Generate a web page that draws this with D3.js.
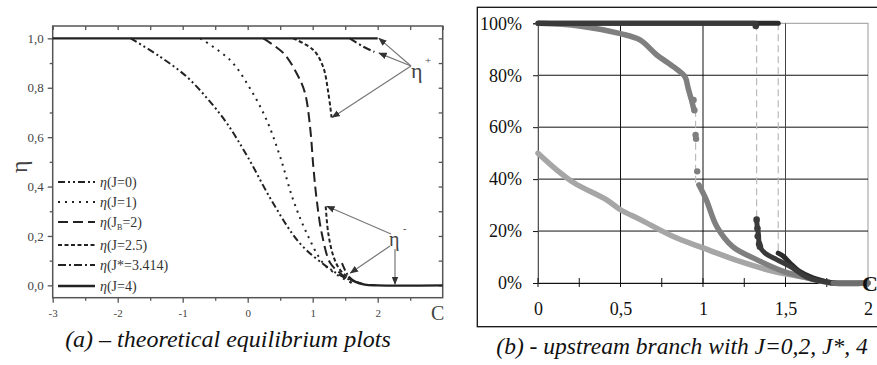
<!DOCTYPE html>
<html>
<head>
<meta charset="utf-8">
<script src="https://cdn.jsdelivr.net/npm/d3@7"></script>
<style>
  body { margin: 0; background: #fff; }
  svg { display: block; }
  svg text { font-family: "Liberation Serif", "DejaVu Serif", serif; }
</style>
</head>
<body>
<svg id="chart" width="877" height="365"></svg>
<script>
// ---- data: (a) theoretical curves, [C, eta] ----
const curveJ0 = [[-1.8,1],[-1.35,0.926],[-0.94,0.845],[-0.6,0.75],[-0.32,0.656],[0,0.52],[0.39,0.333],[0.8,0.171],[1.21,0.077],[1.5,0.03],[1.75,0.008]];
const curveJ1 = [[-0.73,1],[-0.27,0.912],[0.03,0.8],[0.29,0.67],[0.5,0.52],[0.7,0.346],[0.91,0.21],[1.16,0.09],[1.39,0.04],[1.6,0.01]];
const curveJB = [[0.24,1],[0.55,0.94],[0.75,0.86],[0.88,0.78],[0.96,0.64],[1.01,0.48],[1.06,0.35],[1.14,0.21],[1.27,0.09],[1.42,0.05],[1.6,0.01]];
const curveJ25up = [[0.7,1],[1.01,0.953],[1.16,0.885],[1.24,0.78],[1.29,0.68]];
const curveJ25low = [[1.2,0.32],[1.24,0.21],[1.32,0.117],[1.42,0.063],[1.6,0.02]];
const curveJsUp = [[1.57,1],[1.78,0.966],[1.95,0.945]];
const curveJsLow = [[1.45,0.09],[1.52,0.05],[1.6,0.02]];
const curveJ4up = [[-3,1],[2,1]];
const curveJ4low = [[1.55,0.035],[1.65,0.015],[1.8,0.003],[2,0],[3,0]];
const legendLabels = ["J=0", "J=1", "J_B=2", "J=2.5", "J*=3.414", "J=4"];
const xTicksA = [-3, -2, -1, 0, 1, 2];
const yTicksA = [0, 0.2, 0.4, 0.6, 0.8, 1.0];

// ---- data: (b) upstream branch, [C, eta] ----
const rJ0 = [[0,0.5],[0.113,0.436],[0.22,0.385],[0.416,0.32],[0.5,0.282],[0.62,0.244],[0.82,0.179],[1.0,0.135],[1.224,0.083],[1.426,0.045],[1.63,0.02],[1.78,0],[2,0]];
const rJ2up = [[0,1],[0.25,0.99],[0.5,0.96],[0.618,0.936],[0.72,0.878],[0.82,0.833],[0.89,0.795],[0.91,0.75],[0.93,0.705],[0.945,0.667]];
const rJ2jump = [[0.943,0.705],[0.948,0.665],[0.955,0.57],[0.958,0.555],[0.965,0.43]];
const rJ2low = [[0.975,0.378],[1.02,0.32],[1.083,0.218],[1.18,0.14],[1.325,0.09],[1.487,0.045],[1.62,0.022],[1.79,0],[2,0]];
const rJsUp = [[0,1],[1.32,1]];
const rJsLow = [[1.325,0.244],[1.33,0.21],[1.335,0.192],[1.345,0.14],[1.376,0.115],[1.447,0.09],[1.527,0.064],[1.63,0.022],[1.69,0.01],[1.8,0]];
const rJsDots = [[1.32,0.99],[1.325,0.244],[1.33,0.21],[1.332,0.18],[1.34,0.15],[1.345,0.14]];
const rJ4up = [[0,1],[1.456,1]];
const rJ4low = [[1.456,0.115],[1.487,0.103],[1.527,0.077],[1.585,0.045],[1.666,0.02],[1.78,0]];
const xTicksB = [0, 0.5, 1, 1.5, 2];
const yTicksB = [0, 0.2, 0.4, 0.6, 0.8, 1.0];

const svg = d3.select("#chart");
const SERIF = "'Liberation Serif', 'DejaVu Serif', serif";
const comma = v => v.toString().replace(".", ",");

// ================= panel (a) =================
const xA = d3.scaleLinear().domain([-3, 3]).range([52.7, 442.7]);
const yA = d3.scaleLinear().domain([-0.05, 1.05]).range([297.7, 26]);
const gA = svg.append("g");
const frameCol = "#555";

gA.append("rect")
  .attr("x", xA(-3)).attr("y", yA(1.05))
  .attr("width", xA(3) - xA(-3)).attr("height", yA(-0.05) - yA(1.05))
  .attr("fill", "none").attr("stroke", frameCol).attr("stroke-width", 1.5);

function styleAxis(g) {
  g.attr("font-family", SERIF);
  g.select(".domain").remove();
  g.selectAll("line").attr("stroke", frameCol).attr("stroke-width", 1.3);
  g.selectAll("text").attr("fill", "#444");
}

// bottom axis (outward ticks)
gA.append("g").attr("transform", `translate(0,${yA(-0.05)})`)
  .call(d3.axisBottom(xA).tickValues(xTicksA).tickSize(5).tickPadding(7).tickFormat(d => d))
  .call(styleAxis).call(g => g.selectAll("text").attr("font-size", 11));
gA.append("g").attr("transform", `translate(0,${yA(-0.05)})`)
  .call(d3.axisBottom(xA).tickValues(d3.range(-2.5, 3, 1)).tickSize(3).tickFormat(""))
  .call(styleAxis);
// top axis (inward)
gA.append("g").attr("transform", `translate(0,${yA(1.05)})`)
  .call(d3.axisBottom(xA).tickValues(d3.range(-3, 3.01, 0.5)).tickSize(4).tickFormat(""))
  .call(styleAxis);
// left axis (outward)
gA.append("g").attr("transform", `translate(${xA(-3)},0)`)
  .call(d3.axisLeft(yA).tickValues(yTicksA).tickSize(5).tickPadding(4).tickFormat(d => comma(d.toFixed(1))))
  .call(styleAxis).call(g => g.selectAll("text").attr("font-size", 13));
gA.append("g").attr("transform", `translate(${xA(-3)},0)`)
  .call(d3.axisLeft(yA).tickValues([0.1, 0.3, 0.5, 0.7, 0.9]).tickSize(3).tickFormat(""))
  .call(styleAxis);
// right axis (inward)
gA.append("g").attr("transform", `translate(${xA(3)},0)`)
  .call(d3.axisRight(yA).tickValues(d3.range(0, 1.01, 0.1)).tickSize(-4).tickFormat(""))
  .call(styleAxis);

gA.append("text").attr("transform", `translate(27,${yA(0.48)}) rotate(-90)`)
  .attr("text-anchor", "middle").attr("font-size", 24).attr("fill", "#444").text("η");
gA.append("text").attr("x", 431).attr("y", 320).attr("font-size", 20).attr("fill", "#444").text("C");

const lineA = d3.line().x(d => xA(d[0])).y(d => yA(d[1])).curve(d3.curveCatmullRom.alpha(0.5));
const dashes = ["7,3,2,3,2,3", "2,5", "10,5", "4,2.5", "8,3,2,3", null];
const seriesA = [
  [curveJ0], [curveJ1], [curveJB], [curveJ25up, curveJ25low], [curveJsUp, curveJsLow], [curveJ4up, curveJ4low]
];
seriesA.forEach((parts, i) => {
  parts.forEach(p => {
    gA.append("path").attr("d", lineA(p)).attr("fill", "none")
      .attr("stroke", "#222").attr("stroke-width", i === 5 ? 2.3 : 2)
      .attr("stroke-dasharray", dashes[i]);
  });
});

// legend
const legY = [182, 202, 222, 245, 265, 286];
legendLabels.forEach((lab, i) => {
  gA.append("line").attr("x1", 58).attr("x2", 95).attr("y1", legY[i]).attr("y2", legY[i])
    .attr("stroke", "#222").attr("stroke-width", i === 5 ? 2.3 : 2).attr("stroke-dasharray", dashes[i]);
  const t = gA.append("text").attr("x", 100).attr("y", legY[i] + 5).attr("font-size", 14).attr("fill", "#333");
  t.append("tspan").attr("font-style", "italic").text("η");
  if (lab.startsWith("J_B")) {
    t.append("tspan").text("(J");
    t.append("tspan").attr("font-size", 8).attr("dy", 3).text("B");
    t.append("tspan").attr("dy", -3).text("=2)");
  } else {
    t.append("tspan").text("(" + lab + ")");
  }
});

// annotations
const arrowCol = "#777";
svg.append("defs").append("marker").attr("id", "ah").attr("viewBox", "0 0 10 10")
  .attr("refX", 9).attr("refY", 5).attr("markerWidth", 7).attr("markerHeight", 7).attr("orient", "auto")
  .append("path").attr("d", "M0,1 L10,5 L0,9 z").attr("fill", "#333");
function arrow(x1, y1, x2, y2) {
  gA.append("line").attr("x1", x1).attr("y1", y1).attr("x2", x2).attr("y2", y2)
    .attr("stroke", arrowCol).attr("stroke-width", 1.2).attr("marker-end", "url(#ah)");
}
arrow(411, 66, xA(2.02), yA(1.0));
arrow(411, 66, xA(2.02), yA(0.94));
arrow(411, 66, xA(1.3), yA(0.68));
gA.append("text").attr("x", 411).attr("y", 78).attr("font-size", 22).attr("fill", "#444").text("η");
gA.append("text").attr("x", 425).attr("y", 64).attr("font-size", 11).attr("fill", "#444").text("+");
arrow(391, 234, xA(1.22), yA(0.32));
arrow(390, 246, xA(1.58), yA(0.05));
arrow(395, 249, 395, yA(0.005));
gA.append("text").attr("x", 389).attr("y", 246).attr("font-size", 20).attr("fill", "#444").text("η");
gA.append("text").attr("x", 403).attr("y", 232).attr("font-size", 10).attr("fill", "#444").text("-");

svg.append("text").attr("x", 228).attr("y", 347).attr("text-anchor", "middle")
  .attr("font-size", 24).attr("font-style", "italic").attr("fill", "#111")
  .text("(a) – theoretical equilibrium plots");

// ================= panel (b) =================
const xB = d3.scaleLinear().domain([0, 2]).range([538, 868]);
const yB = d3.scaleLinear().domain([0, 1]).range([283, 23.3]);
const gB = svg.append("g");

gB.append("rect").attr("x", 477.3).attr("y", 7.3).attr("width", 420).attr("height", 319.4)
  .attr("fill", "none").attr("stroke", "#111").attr("stroke-width", 1.3);

// plot area border (grey)
gB.append("rect").attr("x", xB(0)).attr("y", yB(1)).attr("width", xB(2) - xB(0)).attr("height", yB(0) - yB(1))
  .attr("fill", "none").attr("stroke", "#999").attr("stroke-width", 1);
// grid
gB.append("g").selectAll("line").data(yTicksB.filter(v => v > 0 && v < 1)).join("line")
  .attr("x1", xB(0)).attr("x2", xB(2)).attr("y1", d => yB(d)).attr("y2", d => yB(d))
  .attr("stroke", "#111").attr("stroke-width", 1);
gB.append("g").selectAll("line").data([0.5, 1, 1.5]).join("line")
  .attr("x1", d => xB(d)).attr("x2", d => xB(d)).attr("y1", yB(1)).attr("y2", yB(0))
  .attr("stroke", d => d === 1.5 ? "#444" : "#111").attr("stroke-width", 1);

// axes
gB.append("g").attr("transform", `translate(${xB(0)},0)`)
  .call(d3.axisLeft(yB).tickValues(yTicksB).tickSize(5).tickPadding(11).tickFormat(d3.format(".0%")))
  .call(g => {
    g.attr("font-family", SERIF);
    g.select(".domain").attr("stroke", "#555");
    g.selectAll("line").attr("stroke", "#111");
    g.selectAll("text").attr("font-size", 18).attr("fill", "#111");
  });
gB.append("g").attr("transform", `translate(0,${yB(0)})`)
  .call(d3.axisBottom(xB).tickValues(xTicksB).tickSize(0).tickPadding(19).tickFormat(d => comma(d)))
  .call(g => {
    g.attr("font-family", SERIF);
    g.select(".domain").attr("stroke", "#111");
    g.selectAll("text").attr("font-size", 18).attr("fill", "#111");
  });
gB.append("g").selectAll("line").data(d3.range(0, 2.01, 0.25)).join("line")
  .attr("x1", d => xB(d)).attr("x2", d => xB(d)).attr("y1", yB(0) - 5).attr("y2", yB(0) + 4)
  .attr("stroke", "#111").attr("stroke-width", 1);

// jump guides (dashed)
function vdash(x, y1, y2) {
  gB.append("line").attr("x1", xB(x)).attr("x2", xB(x)).attr("y1", yB(y1)).attr("y2", yB(y2))
    .attr("stroke", "#bbb").attr("stroke-width", 1.2).attr("stroke-dasharray", "7,4");
}
vdash(1.325, 1, 0.244);
vdash(1.456, 1, 0.115);
vdash(0.955, 0.667, 0.378);

const lineB = d3.line().x(d => xB(d[0])).y(d => yB(d[1])).curve(d3.curveCatmullRom.alpha(0.5));
function track(data, col, w) {
  gB.append("path").attr("d", lineB(data)).attr("fill", "none").attr("stroke", col)
    .attr("stroke-width", w).attr("stroke-linecap", "round").attr("stroke-linejoin", "round");
}
function dots(data, col, r) {
  gB.append("g").selectAll("circle").data(data).join("circle")
    .attr("cx", d => xB(d[0])).attr("cy", d => yB(d[1])).attr("r", r).attr("fill", col);
}
const colJ0 = "#a6a6a6", colJ2 = "#7f7f7f", colJs = "#3a3a3a", colJ4 = "#2b2b2b";

track(rJ0, colJ0, 5.5);
track(rJ2up, colJ2, 5.5);
dots(rJ2jump, colJ2, 3.2);
track(rJ2low, colJ2, 5.5);
track(rJ4low, colJ4, 5);
track(rJsLow, colJs, 5);
dots(rJsDots, colJs, 3.3);
track(rJ4up, colJ4, 5);
track(rJsUp, colJs, 5);
track([[1.79, 0], [2, 0]], "#6e6e6e", 5.5);

gB.append("text").attr("x", 862).attr("y", 291).attr("font-size", 22).attr("font-weight", "bold").attr("fill", "#111").text("C");

svg.append("text").attr("x", 682).attr("y", 354).attr("text-anchor", "middle")
  .attr("font-size", 23.5).attr("font-style", "italic").attr("fill", "#111")
  .text("(b) - upstream branch with J=0,2, J*, 4");
</script>
</body>
</html>
